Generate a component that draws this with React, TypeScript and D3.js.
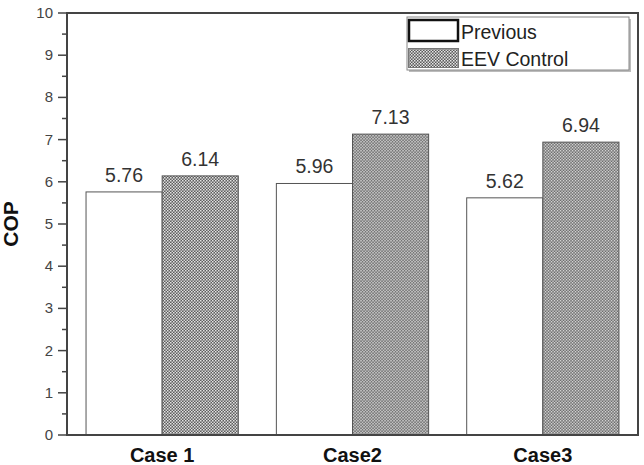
import { useEffect, useRef } from "react";
import * as d3 from "d3";

const cases = ["Case 1", "Case2", "Case3"];
const seriesNames = ["Previous", "EEV Control"];
const previousCop = [5.76, 5.96, 5.62];
const eevCop = [6.14, 7.13, 6.94];
const yTicks = [0, 1, 2, 3, 4, 5, 6, 7, 8, 9, 10];

const W = 644;
const H = 465;
const margin = { top: 13, right: 6, bottom: 30, left: 67 };

const App = () => {
  const ref = useRef<SVGSVGElement>(null);

  useEffect(() => {
    if (!ref.current) return;
    const svg = d3.select(ref.current);
    svg.selectAll("*").remove();

    const font = "'Liberation Sans', Arial, sans-serif";
    const x0 = margin.left;
    const x1 = W - margin.right;
    const y0 = H - margin.bottom;
    const y1 = margin.top;

    const x = d3.scaleBand<string>().domain(cases).range([x0, x1]).paddingInner(0.2).paddingOuter(0.1);
    const xs = d3.scaleBand<string>().domain(seriesNames).range([0, x.bandwidth()]);
    const y = d3.scaleLinear().domain([0, 10]).range([y0, y1]);

    // checkered fill for the EEV bars
    const defs = svg.append("defs");
    const pat = defs
      .append("pattern")
      .attr("id", "checker")
      .attr("patternUnits", "userSpaceOnUse")
      .attr("width", 3)
      .attr("height", 3);
    pat.append("rect").attr("width", 3).attr("height", 3).attr("fill", "#5a5a5a");
    pat.append("rect").attr("width", 1.5).attr("height", 1.5).attr("fill", "#e8e8e8");
    pat.append("rect").attr("x", 1.5).attr("y", 1.5).attr("width", 1.5).attr("height", 1.5).attr("fill", "#d8d8d8");

    const rows = cases.map((c, i) => ({ c, vals: [previousCop[i], eevCop[i]] }));

    const groups = svg
      .append("g")
      .selectAll("g")
      .data(rows)
      .enter()
      .append("g")
      .attr("transform", (d) => `translate(${x(d.c)},0)`);

    groups
      .selectAll("rect")
      .data((d) => d.vals.map((v, j) => ({ v, s: seriesNames[j] })))
      .enter()
      .append("rect")
      .attr("x", (d) => xs(d.s)!)
      .attr("y", (d) => y(d.v))
      .attr("width", xs.bandwidth())
      .attr("height", (d) => y0 - y(d.v))
      .attr("fill", (d) => (d.s === "Previous" ? "#fff" : "url(#checker)"))
      .attr("stroke", (d) => (d.s === "Previous" ? "#555" : "#555"))
      .attr("stroke-width", 1);

    groups
      .selectAll("text")
      .data((d) => d.vals.map((v, j) => ({ v, s: seriesNames[j] })))
      .enter()
      .append("text")
      .attr("x", (d) => xs(d.s)! + xs.bandwidth() / 2)
      .attr("y", (d) => y(d.v) - 10)
      .attr("text-anchor", "middle")
      .attr("font-family", font)
      .attr("font-size", 19.5)
      .attr("fill", "#333")
      .text((d) => d.v.toFixed(2));

    // frame
    svg
      .append("rect")
      .attr("x", x0)
      .attr("y", y1)
      .attr("width", x1 - x0)
      .attr("height", y0 - y1)
      .attr("fill", "none")
      .attr("stroke", "#444")
      .attr("stroke-width", 2);

    // y axis ticks, outward
    const yAxis = svg.append("g");
    yAxis
      .selectAll("line.major")
      .data(yTicks)
      .enter()
      .append("line")
      .attr("x1", x0 - 9)
      .attr("x2", x0)
      .attr("y1", (d) => y(d))
      .attr("y2", (d) => y(d))
      .attr("stroke", "#444")
      .attr("stroke-width", 1.5);
    yAxis
      .selectAll("line.minor")
      .data(yTicks.slice(0, -1))
      .enter()
      .append("line")
      .attr("x1", x0 - 5)
      .attr("x2", x0)
      .attr("y1", (d) => y(d + 0.5))
      .attr("y2", (d) => y(d + 0.5))
      .attr("stroke", "#444")
      .attr("stroke-width", 1.5);
    yAxis
      .selectAll("text")
      .data(yTicks)
      .enter()
      .append("text")
      .attr("x", x0 - 14)
      .attr("y", (d) => y(d) + 5)
      .attr("text-anchor", "end")
      .attr("font-family", font)
      .attr("font-size", 15)
      .attr("fill", "#444")
      .text((d) => d);

    svg
      .append("text")
      .attr("transform", `translate(18,${(y0 + y1) / 2}) rotate(-90)`)
      .attr("text-anchor", "middle")
      .attr("font-family", font)
      .attr("font-size", 21)
      .attr("font-weight", "bold")
      .attr("fill", "#111")
      .text("COP");

    svg
      .append("g")
      .selectAll("text")
      .data(cases)
      .enter()
      .append("text")
      .attr("x", (d) => x(d)! + x.bandwidth() / 2)
      .attr("y", 462)
      .attr("text-anchor", "middle")
      .attr("font-family", font)
      .attr("font-size", 20)
      .attr("font-weight", "bold")
      .attr("fill", "#111")
      .text((d) => d);

    // legend
    const lg = svg.append("g");
    lg.append("rect")
      .attr("x", 409)
      .attr("y", 19)
      .attr("width", 222)
      .attr("height", 53)
      .attr("fill", "#bbb");
    lg.append("rect")
      .attr("x", 407)
      .attr("y", 17)
      .attr("width", 222)
      .attr("height", 53)
      .attr("fill", "#fff")
      .attr("stroke", "#888")
      .attr("stroke-width", 1);
    lg.append("rect")
      .attr("x", 409)
      .attr("y", 20)
      .attr("width", 49)
      .attr("height", 21)
      .attr("fill", "#fff")
      .attr("stroke", "#111")
      .attr("stroke-width", 2.5);
    lg.append("rect")
      .attr("x", 408.5)
      .attr("y", 48.5)
      .attr("width", 50)
      .attr("height", 19)
      .attr("fill", "url(#checker)")
      .attr("stroke", "#777")
      .attr("stroke-width", 1);
    lg.selectAll("text")
      .data(seriesNames)
      .enter()
      .append("text")
      .attr("x", 461)
      .attr("y", (_d, i) => 39 + i * 27)
      .attr("font-family", font)
      .attr("font-size", 19.5)
      .attr("fill", "#222")
      .text((d) => d);
  }, []);

  return (
    <div style={{ position: "absolute", left: 0, top: 0 }}>
      <svg ref={ref} width={W} height={H} style={{ display: "block", background: "#fff" }} />
    </div>
  );
};

export default App;
